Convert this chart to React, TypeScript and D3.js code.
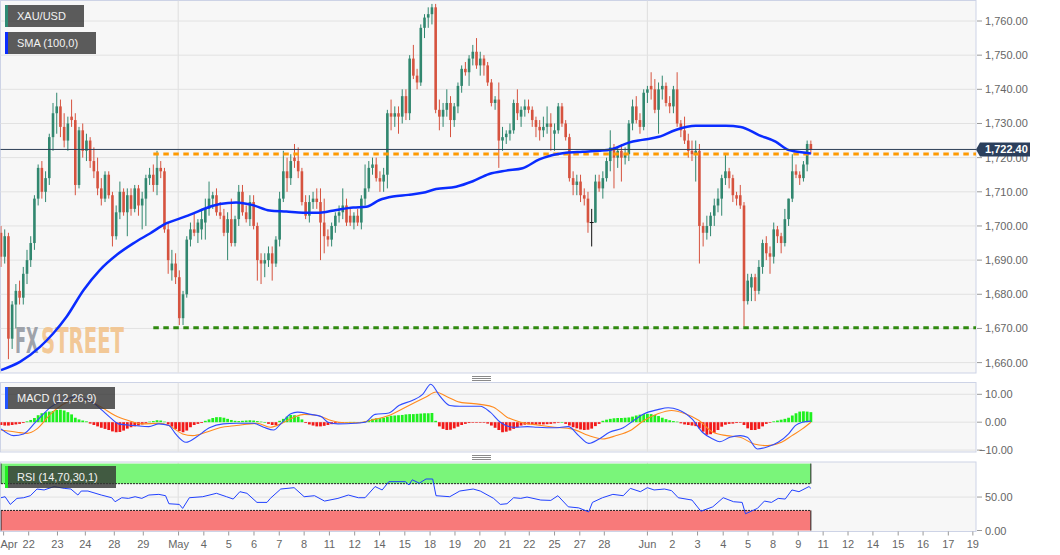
import React from "react";
import * as d3 from "d3";

// ---------- DATA ----------
// 4h candles [open, high, low, close]
const candles: number[][] = [
[1698,1700,1688,1691],[1691,1699,1689,1697],[1697,1698,1661,1667],[1667,1678,1664,1677],[1677,1683,1670,1681],
[1681,1684,1677,1679],[1679,1688,1677,1686],[1686,1693,1683,1690],[1690,1697,1688,1695],[1695,1709,1693,1708],
[1708,1718,1706,1717],[1717,1719,1708,1710],[1710,1716,1707,1714],[1714,1727,1712,1726],[1726,1736,1722,1733],
[1733,1739,1727,1735],[1735,1737,1726,1729],[1729,1733,1723,1725],[1725,1732,1722,1730],[1732,1737,1729,1731],
[1731,1733,1709,1712],[1712,1729,1711,1728],[1728,1730,1720,1722],[1722,1727,1719,1725],[1725,1726,1717,1719],
[1719,1723,1714,1716],[1716,1720,1709,1711],[1711,1714,1706,1708],[1708,1716,1707,1715],[1715,1716,1708,1709],
[1709,1710,1694,1697],[1697,1706,1696,1704],[1704,1713,1702,1710],[1710,1711,1703,1704],[1704,1711,1697,1709],
[1709,1711,1703,1705],[1705,1712,1704,1711],[1711,1712,1703,1706],[1706,1710,1699,1708],[1708,1715,1700,1714],
[1714,1717,1712,1715],[1715,1718,1710,1712],[1712,1722,1709,1717],[1717,1719,1714,1716],[1716,1717,1698,1699],
[1699,1701,1686,1690],[1687,1693,1684,1689],[1689,1692,1683,1685],[1685,1687,1671,1673],[1673,1681,1671,1680],
[1680,1697,1679,1696],[1696,1701,1694,1699],[1699,1704,1697,1698],[1698,1702,1695,1701],[1699,1705,1696,1702],
[1701,1708,1696,1705],[1705,1713,1703,1708],[1708,1710,1705,1709],[1709,1711,1703,1704],[1704,1707,1702,1703],
[1703,1705,1697,1698],[1698,1704,1690,1702],[1702,1708,1694,1695],[1695,1703,1694,1702],[1702,1712,1700,1710],
[1710,1712,1703,1704],[1704,1706,1701,1702],[1702,1709,1700,1707],[1707,1709,1699,1700],[1700,1701,1684,1690],
[1690,1692,1683,1689],[1689,1692,1685,1690],[1690,1694,1688,1692],[1692,1694,1684,1689],[1689,1697,1688,1696],
[1696,1710,1694,1708],[1708,1722,1707,1716],[1716,1720,1710,1714],[1714,1721,1712,1719],[1720,1724,1717,1719],
[1719,1723,1714,1716],[1716,1717,1706,1707],[1707,1709,1702,1703],[1703,1709,1701,1707],[1707,1710,1705,1708],
[1708,1711,1705,1707],[1707,1711,1690,1701],[1701,1708,1692,1697],[1697,1699,1694,1696],[1696,1701,1694,1700],
[1700,1704,1698,1703],[1703,1706,1701,1704],[1704,1711,1702,1706],[1706,1708,1700,1701],[1703,1705,1700,1701],
[1701,1704,1699,1703],[1703,1705,1700,1701],[1701,1709,1699,1708],[1708,1718,1706,1711],[1711,1719,1710,1717],
[1717,1720,1715,1718],[1718,1720,1713,1714],[1714,1716,1710,1713],[1713,1717,1710,1715],[1715,1734,1711,1733],
[1733,1737,1728,1732],[1732,1735,1729,1733],[1733,1735,1727,1732],[1732,1740,1730,1738],[1738,1740,1731,1733],
[1733,1750,1731,1749],[1749,1753,1743,1744],[1744,1746,1740,1742],[1742,1759,1741,1758],[1758,1762,1755,1761],
[1761,1764,1758,1762],[1762,1765,1759,1764],[1764,1765,1733,1734],[1734,1737,1728,1732],[1732,1736,1729,1734],
[1734,1740,1732,1736],[1736,1738,1726,1731],[1731,1736,1729,1735],[1735,1742,1733,1741],[1741,1747,1739,1746],
[1746,1748,1744,1745],[1745,1750,1741,1749],[1749,1753,1747,1751],[1751,1755,1746,1747],[1747,1751,1744,1749],
[1749,1750,1744,1747],[1747,1748,1741,1742],[1742,1743,1735,1736],[1736,1738,1734,1737],[1737,1742,1717,1725],
[1725,1729,1722,1726],[1726,1728,1724,1727],[1727,1730,1725,1728],[1728,1737,1727,1736],[1736,1740,1731,1733],
[1732,1735,1729,1734],[1734,1737,1732,1735],[1735,1737,1733,1734],[1734,1735,1729,1731],[1731,1732,1726,1729],
[1729,1731,1725,1728],[1728,1732,1726,1729],[1729,1735,1727,1730],[1730,1733,1722,1729],[1727,1730,1722,1728],
[1728,1736,1727,1735],[1735,1736,1729,1730],[1730,1731,1725,1726],[1726,1727,1713,1714],[1714,1716,1709,1712],
[1712,1715,1709,1713],[1713,1715,1707,1709],[1709,1711,1706,1708],[1708,1710,1698,1701],[1701,1705,1694,1701],
[1701,1715,1701,1713],[1713,1715,1710,1711],[1711,1716,1708,1714],[1714,1720,1713,1719],[1719,1728,1716,1723],
[1723,1724,1711,1720],[1720,1723,1717,1722],[1722,1724,1713,1720],[1720,1723,1718,1721],[1721,1731,1719,1730],
[1730,1737,1728,1735],[1735,1738,1730,1731],[1731,1733,1727,1729],[1729,1740,1728,1739],[1739,1741,1736,1740],
[1741,1745,1737,1740],[1740,1743,1733,1734],[1734,1742,1727,1740],[1740,1744,1737,1741],[1741,1742,1735,1736],
[1736,1738,1733,1735],[1735,1741,1733,1740],[1740,1745,1729,1730],[1730,1731,1726,1728],[1728,1732,1724,1725],
[1725,1727,1720,1722],[1722,1725,1719,1721],[1721,1725,1713,1722],[1722,1724,1689,1700],[1700,1701,1694,1698],
[1698,1703,1696,1700],[1700,1704,1697,1703],[1703,1708,1700,1706],[1706,1711,1704,1708],[1708,1715,1703,1714],
[1714,1721,1712,1716],[1716,1717,1711,1714],[1714,1715,1707,1709],[1709,1710,1706,1708],[1709,1712,1705,1706],
[1706,1707,1670.5,1678],[1678,1686,1677,1684],[1682,1686,1678,1685],[1685,1686,1678,1681],[1681,1690,1680,1688],
[1688,1696,1686,1695],[1695,1697,1690,1692],[1692,1694,1686,1691],[1691,1701,1689,1699],[1699,1700,1695,1697],
[1697,1698,1692,1695],[1695,1705,1694,1702],[1702,1708,1700,1708],[1708,1721,1707,1716],[1716,1718,1714,1715],
[1715,1716,1712,1714],[1714,1719,1713,1718],[1718,1725,1716,1724],[1724,1725,1721,1722.4]
];

const smaIdx = [0,5.1,10.5,14.1,17.7,22.2,26.6,31.1,35.6,40.1,44.6,48.2,51.8,54.4,58.9,63.3,67.8,72.3,76.8,81.3,85.8,90.3,94.8,98.3,101.9,105.5,109.6,113.5,117.1,122.5,127,131.4,136,140.4,144.9,147.6,152.1,156.6,161,164.2,169,172.6,177.1,181.6,187,190.6,195.1,199.1,204,208.5,212.1,217.5,218];
const smaVal = [1657.8,1660.2,1664.6,1668.6,1673.5,1681.2,1687.1,1691.5,1694.9,1697.8,1700.8,1702.2,1703.7,1704.9,1706.4,1706.9,1706.1,1704.5,1704.2,1703.9,1703.9,1704.7,1705.4,1705.6,1707.6,1708.6,1709.1,1709.7,1710.8,1711.5,1713.1,1715.2,1716.2,1716.9,1719.5,1720.5,1721.4,1721.7,1722,1722.4,1724.4,1725.2,1726.1,1728.1,1729.3,1729.3,1729.3,1729,1726.6,1724.7,1722.2,1721.3,1721.2];

const macdIdx = [0,3.4,6.1,9.3,13.4,17.9,19.7,22.5,25.2,27,29.8,31.6,36.1,39.8,42.5,45.2,47,49.8,52.5,56.1,59.8,63.4,68,70.7,73.4,75.3,78,79.8,83.4,86.2,88,90.7,95.3,98,100.7,104.4,107.1,110.7,113.5,115.7,118,120.8,123.5,129,131.7,134.4,138,141.7,144.3,149,152.7,155.5,158.2,161,163.8,167.5,170.3,173.1,176.8,179.6,182.3,186,188.8,191.6,193.5,196.2,199,200.9,203.6,206.4,209.2,212,213.8,215.7,218];
const macdVal = [-2.4,-4.8,-4.2,0,5.4,8.4,9.0,8.4,6.6,4.5,1.2,-0.6,-1.2,-1.6,-0.6,-1.2,-4.2,-7.2,-5.4,-2.0,-0.6,-0.4,-0.4,-1.8,-2.8,-0.6,3.0,3.6,2.8,2.0,0,-0.6,-0.4,0,2.8,3.3,6.0,7.8,10.0,13.6,9.6,6.0,5.7,5.7,3.6,0,-1.8,-1.6,-1.8,-2.0,-1.6,-4.8,-7.6,-6.0,-3.6,-2.0,0.6,3.0,4.5,5.2,4.5,1.2,-3.6,-6.0,-7.0,-5.4,-4.8,-5.4,-9.6,-8.8,-7.2,-4.2,-1.2,0,0.4];

const sigIdx = [0,4.3,7,9.7,13.4,17.9,20.7,24.3,27,30.7,34.3,37.9,42.5,45.2,48.9,51.6,55.2,58.9,63.4,68.9,72.5,75.3,78.9,81.6,85.3,88.9,92.5,96.2,99.8,104.4,108.9,114.4,117.1,119.8,123.5,129,132.6,136.2,139.9,144.3,149,153.6,158.2,161.9,165.6,169.4,173.1,176.8,180.5,184.2,187.9,191.6,195.3,199,202.7,206.4,210.1,212.9,215.7,218];
const sigVal = [-2.8,-3.6,-4.0,-2.4,3.0,7.2,8.4,7.2,5.4,2.4,0.6,-0.6,-0.4,-1.2,-4.2,-4.8,-3.6,-2.0,-1.2,-0.4,-1.8,-0.6,1.8,2.8,2.4,0.6,-0.2,-0.2,0.8,2.4,5.4,9.0,10.8,9.3,7.2,6.4,5.4,1.8,0,-1.0,-1.8,-2.4,-4.8,-6.0,-4.8,-3.0,0.6,3.0,4.2,3.0,0.6,-3.6,-4.8,-5.4,-7.8,-8.4,-7.2,-4.8,-2.4,0];

const hist = [
-1.0,-1.2,-1.2,-1.0,-0.8,-0.6,-0.3,0.3,0.8,1.5,2.5,3.2,3.6,3.8,4.0,4.4,4.5,4.2,3.6,2.8,1.6,1.0,0.6,0.3,
-0.5,-1.0,-1.5,-2.0,-2.4,-2.8,-3.3,-3.6,-3.5,-3.0,-2.3,-1.8,-1.5,-1.2,-0.8,-0.4,0.2,0.4,0.7,0.6,0.2,
-0.8,-1.6,-2.4,-3.2,-3.6,-3.0,-1.8,-1.0,-0.6,-0.3,0.5,1.0,1.5,1.8,1.8,1.6,1.2,0.8,0.5,0.4,0.5,0.6,0.7,0.6,0.4,0.2,0.0,
-0.6,-1.0,-1.0,0.5,1.2,2.0,2.6,2.5,2.0,1.0,-0.3,-0.8,-1.2,-1.5,-1.5,-1.3,-1.0,-0.7,-0.4,-0.2,-0.1,0.0,0.1,0.1,0.0,0.1,0.3,
0.8,1.2,1.4,1.5,1.6,2.0,2.3,2.4,2.5,2.6,2.8,2.9,2.9,3.0,3.1,3.2,3.2,3.3,0.5,
-1.5,-2.4,-2.8,-2.7,-2.2,-1.6,-1.0,-0.6,-0.3,-0.2,-0.2,-0.1,-0.2,-0.5,-1.2,-2.0,-2.8,-3.6,-3.4,-3.0,-2.4,-1.8,-1.2,-0.9,-0.8,
-0.8,-0.9,-0.8,-0.8,-0.7,-0.6,-0.4,-0.1,0.0,-0.6,-1.2,-1.8,-2.2,-2.6,-2.8,-2.7,-2.3,-1.4,-0.6,
0.5,0.9,1.2,1.4,1.5,1.5,1.6,1.7,2.0,2.4,2.7,2.9,3.0,2.9,2.6,2.2,1.6,1.1,0.7,0.4,0.2,
-0.4,-0.8,-1.0,-1.2,-1.4,-2.2,-3.4,-4.5,-4.3,-3.8,-2.8,-1.6,-0.9,-0.6,-0.5,-0.3,-0.2,
-1.0,-2.2,-2.8,-2.8,-2.4,-1.5,-0.6,-0.2,0.3,0.6,0.9,1.2,1.6,2.4,3.2,3.8,3.9,3.8,3.6
];

const rsiIdx = [0,1.1,2.5,4.3,6.1,7.9,9.7,11.6,14.3,17,18.8,20.7,21.6,23.4,27,29.8,30.7,32.5,34.3,36.1,37.9,39.8,42.5,44.3,45.2,48,48.9,50.7,54.3,58,60.7,62.5,64.3,66.2,68.9,71.6,72.5,75.3,78.9,81.6,84.4,87.1,90.7,93.5,96.2,98,100.7,102.6,104.4,108.9,109.8,110.7,112.6,114.4,116.2,117.1,120.8,123.5,127.1,129,132.6,134.4,136.2,138,139.9,141.6,145.3,148,149.9,152.7,155.5,158.2,159.2,161.9,164.7,167.5,169.4,172.1,174,175.8,178.6,180.5,182.3,186,188.4,191.6,194.4,197.2,199.5,200.4,203.6,205.5,207.4,209.2,211.1,212.9,214.8,217.5,218];
const rsiVal = [49,50.5,39,48,49,52,62,60.6,65.7,63,62,53,59,59,53,49,43,49,48,50.5,48,53,54,52,40,39,33,49,50.5,55.6,50.5,47,58,55.6,42,42,48,62,64,50.5,52,44,48,53,49,49,65.7,60.6,73,73,68,75.8,70.7,77,77,52,50.5,59,62,59,48,39,40,49,48,50,45.5,45,52,35.4,33.8,27.8,42,49,54,52,63,58,64,60.6,62,59.6,49,45.5,28.8,35.4,49,43,42,25,33,44,42,48,47,60.6,58,65.7,63];

const priceTicks = [1660,1670,1680,1690,1700,1710,1720,1730,1740,1750,1760];
const macdTicks = [-10,0,10];
const rsiTicks = [0,50];
const tickLabels = ["Apr","22","23","24","28","29","May","4","5","6","7","8","11","12","14","15","18","19","20","21","22","25","27","28","Jun","2","3","4","5","8","9","11","12","14","15","16","17","19"];
const tickIdx = [0.7,7.45,15.2,22.7,30.5,38.3,47.8,54.6,61.3,68.1,74.9,81.6,88.4,95.2,101.9,108.7,115.5,122.2,128.9,135.7,142.2,149,155.8,162.4,174,180.7,187.5,194.4,201.1,207.8,214.6,221.3,228,234.7,241.5,248.2,255,261.6];
const monthIdx = [47.7, 174.0];
const lastPrice = 1722.4;
const resistanceLevel = 1721.1;
const supportLevel = 1670.2;
const levelStartIdx = 41;
const rsiUpper = 70;
const rsiLower = 30;

// ---------- CHART ----------
const FONT = "'Liberation Sans', Arial, sans-serif";
const GREEN = "#31876f";
const RED = "#d6533f";

export default function App() {
  const W = 1060, H = 555;
  const R = 976; // right edge of panels
  const mainTop = 0.5, mainBot = 373;
  const macdTop = 382.5, macdBot = 452;
  const rsiTop = 462, rsiBot = 531.5;

  const x = d3.scaleLinear().domain([0, 218]).range([1, 810.87]);
  const yP = d3.scaleLinear().domain([1660, 1760]).range([362.6, 21]);
  const yM = d3.scaleLinear().domain([-10, 10]).range([450.1, 394.3]);
  const yR = d3.scaleLinear().domain([0, 100]).range([530.5, 463.6]);

  const fmtP = d3.format(",.2f");
  const fmtM = d3.format(".2f");

  const smaLine = d3.line<number>().x((_, i) => x(smaIdx[i])).y((v) => yP(v)).curve(d3.curveMonotoneX)(smaVal) || "";
  const macdLine = d3.line<number>().x((_, i) => x(macdIdx[i])).y((v) => yM(v)).curve(d3.curveMonotoneX)(macdVal) || "";
  const sigLine = d3.line<number>().x((_, i) => x(sigIdx[i])).y((v) => yM(v)).curve(d3.curveMonotoneX)(sigVal) || "";
  const rsiLine = d3.line<number>().x((_, i) => x(rsiIdx[i])).y((v) => yR(v))(rsiVal) || "";

  const bodyW = 2.6;
  const lastX = x(candles.length - 1);
  const yLast = yP(lastPrice);

  const labelBox = (bx: number, by: number, w: number, barColor: string, text: string) => (
    <g>
      <rect x={bx} y={by} width={w} height={22} fill="rgba(51,51,51,0.8)" />
      <rect x={bx} y={by} width={3} height={22} fill={barColor} />
      <text x={bx + 12} y={by + 15} fontSize={11} fill="#f2f2f2" fontFamily={FONT}>{text}</text>
    </g>
  );

  const grip = (gy: number) => (
    <g stroke="#8a8a8a" strokeWidth={1}>
      {[0, 2, 4].map((d) => (
        <line key={d} x1={472} x2={491} y1={gy + d + 0.5} y2={gy + d + 0.5} />
      ))}
    </g>
  );

  const wmFont = "'DejaVu Sans Condensed', 'DejaVu Sans', sans-serif";

  return (
    <svg width={W} height={H} style={{ position: "absolute", left: 0, top: 0, background: "#fff" }} fontFamily={FONT}>
      <defs>
        <clipPath id="clipMain"><rect x={0.5} y={mainTop} width={R - 0.5} height={mainBot - mainTop} /></clipPath>
        <clipPath id="clipMacd"><rect x={0.5} y={macdTop} width={R - 0.5} height={macdBot - macdTop} /></clipPath>
        <clipPath id="clipRsi"><rect x={0.5} y={rsiTop} width={R - 0.5} height={rsiBot - rsiTop} /></clipPath>
      </defs>
      <rect x={0} y={0} width={W} height={H} fill="#fff" />

      {/* ===== MAIN PANEL ===== */}
      <rect x={0.5} y={mainTop} width={R - 0.5} height={mainBot - mainTop} fill="#f7f7f7" stroke="#cdd3e6" />
      <g clipPath="url(#clipMain)">
        {priceTicks.map((p) => (
          <line key={p} x1={0} x2={R} y1={yP(p)} y2={yP(p)} stroke="#e2e2e2" strokeWidth={1} />
        ))}
        {monthIdx.map((m) => (
          <line key={m} x1={x(m)} x2={x(m)} y1={mainTop} y2={mainBot} stroke="#e2e2e2" strokeWidth={1.2} />
        ))}
        {/* watermark */}
        <text x={15} y={353} fontSize={36} fontWeight="bold" fontFamily={wmFont} textLength={23.5} lengthAdjust="spacingAndGlyphs" fill="#8f949c" fillOpacity={0.85}>FX</text>
        <text x={41} y={353} fontSize={36} fontWeight="bold" fontFamily={wmFont} textLength={83} lengthAdjust="spacingAndGlyphs" fill="#f2c28a" fillOpacity={0.9}>STREET</text>

        {/* candles */}
        {candles.map((c, i) => {
          const [o, h, l, cl] = c;
          const col = cl > o ? GREEN : cl < o ? RED : "#111";
          const cx = x(i);
          const top = yP(Math.max(o, cl));
          const bh = Math.max(Math.abs(yP(o) - yP(cl)), 1);
          return (
            <g key={i}>
              <line x1={cx} x2={cx} y1={yP(h)} y2={yP(l)} stroke={col} strokeWidth={1} />
              {cl === o ? (
                <line x1={cx - 2} x2={cx + 2} y1={yP(o)} y2={yP(o)} stroke={col} strokeWidth={1} />
              ) : (
                <rect x={cx - bodyW / 2} y={top} width={bodyW} height={bh} fill={col} />
              )}
            </g>
          );
        })}

        {/* levels */}
        <line x1={x(levelStartIdx)} x2={R} y1={yP(resistanceLevel)} y2={yP(resistanceLevel)} stroke="#ff9a00" strokeWidth={3} strokeDasharray="5.5,4.5" />
        <line x1={x(levelStartIdx)} x2={R} y1={yP(supportLevel)} y2={yP(supportLevel)} stroke="#2f8a0f" strokeWidth={3} strokeDasharray="5.5,4.5" />

        {/* SMA */}
        <path d={smaLine} fill="none" stroke="#0a2cff" strokeWidth={2.5} />

        {/* last price line */}
        <line x1={0} x2={R} y1={yLast} y2={yLast} stroke="#2c3e55" strokeWidth={1} />
      </g>
      {/* price axis */}
      {priceTicks.map((p) => (
        <g key={p}>
          <line x1={R + 1} x2={R + 6} y1={yP(p)} y2={yP(p)} stroke="#999" />
          <text x={985} y={yP(p) + 4} fontSize={11} fill="#666">{fmtP(p)}</text>
        </g>
      ))}
      <path d={`M${R},${yLast} L${R + 4},${yLast - 7} L1030,${yLast - 7} L1030,${yLast + 7} L${R + 4},${yLast + 7} Z`} fill="#2b3f5c" />
      <text x={985} y={yLast + 4} fontSize={11} fontWeight="bold" fill="#fff">{fmtP(lastPrice)}</text>

      {labelBox(5, 5, 79, "#2e8b74", "XAU/USD")}
      {labelBox(5, 32, 91, "#0a2cff", "SMA (100,0)")}

      {grip(376)}

      {/* ===== MACD PANEL ===== */}
      <rect x={0.5} y={macdTop} width={R - 0.5} height={macdBot - macdTop} fill="#f7f7f7" stroke="#cdd3e6" />
      <g clipPath="url(#clipMacd)">
        {macdTicks.map((t) => (
          <line key={t} x1={0} x2={R} y1={yM(t)} y2={yM(t)} stroke="#e2e2e2" />
        ))}
        {monthIdx.map((m) => (
          <line key={m} x1={x(m)} x2={x(m)} y1={macdTop} y2={macdBot} stroke="#e2e2e2" strokeWidth={1.2} />
        ))}
        {hist.map((v, i) => (
          <rect key={i} x={x(i) - 1.4} y={Math.min(yM(v), yM(0))} width={2.8} height={Math.max(Math.abs(yM(v) - yM(0)), 0.6)} fill={v >= 0 ? "#1ef01e" : "#f21a1a"} />
        ))}
        <path d={sigLine} fill="none" stroke="#ff8a1e" strokeWidth={1.1} />
        <path d={macdLine} fill="none" stroke="#2f4cff" strokeWidth={1.1} />
      </g>
      {macdTicks.map((t) => (
        <g key={t}>
          <line x1={R + 1} x2={R + 6} y1={yM(t)} y2={yM(t)} stroke="#999" />
          <text x={t < 0 ? 979 : 985} y={yM(t) + 4} fontSize={11} fill="#666">{fmtM(t)}</text>
        </g>
      ))}
      {labelBox(5, 387, 110, "#2255ff", "MACD (12,26,9)")}

      {grip(455)}

      {/* ===== RSI PANEL ===== */}
      <rect x={0.5} y={rsiTop} width={R - 0.5} height={rsiBot - rsiTop} fill="#f7f7f7" stroke="#cdd3e6" />
      <g clipPath="url(#clipRsi)">
        <line x1={0} x2={R} y1={yR(50)} y2={yR(50)} stroke="#e2e2e2" />
        {monthIdx.map((m) => (
          <line key={m} x1={x(m)} x2={x(m)} y1={rsiTop} y2={rsiBot} stroke="#e2e2e2" strokeWidth={1.2} />
        ))}
        <rect x={1} y={yR(100)} width={lastX - 1} height={yR(rsiUpper) - yR(100)} fill="#7af57a" />
        <rect x={1} y={yR(rsiLower)} width={lastX - 1} height={yR(0) - yR(rsiLower)} fill="#f87a7a" />
        <line x1={1} x2={lastX} y1={yR(rsiUpper)} y2={yR(rsiUpper)} stroke="#222" strokeDasharray="2,1" />
        <line x1={1} x2={lastX} y1={yR(rsiLower)} y2={yR(rsiLower)} stroke="#222" strokeDasharray="2,1" />
        <line x1={1} x2={1} y1={yR(100)} y2={yR(rsiUpper)} stroke="#222" />
        <line x1={1} x2={1} y1={yR(rsiLower)} y2={yR(0)} stroke="#222" />
        <line x1={lastX} x2={lastX} y1={yR(100)} y2={yR(rsiUpper)} stroke="#222" />
        <line x1={lastX} x2={lastX} y1={yR(rsiLower)} y2={yR(0)} stroke="#222" />
        <path d={rsiLine} fill="none" stroke="#2040ff" strokeWidth={1} />
      </g>
      {rsiTicks.map((t) => (
        <g key={t}>
          <line x1={R + 1} x2={R + 6} y1={yR(t)} y2={yR(t)} stroke="#999" />
          <text x={985} y={yR(t) + 4} fontSize={11} fill="#666">{fmtM(t)}</text>
        </g>
      ))}
      {labelBox(5, 466, 111, "#22ee22", "RSI (14,70,30,1)")}

      {/* ===== X AXIS ===== */}
      {tickLabels.map((lab, k) => {
        const tx = x(tickIdx[k]);
        const atStart = tx < 10;
        return (
          <g key={k}>
            <line x1={tx} x2={tx} y1={rsiBot} y2={rsiBot + 4} stroke="#999" />
            <text x={atStart ? 0.5 : tx} y={548} fontSize={11} fill="#666" textAnchor={atStart ? "start" : "middle"}>{lab}</text>
          </g>
        );
      })}
    </svg>
  );
}
